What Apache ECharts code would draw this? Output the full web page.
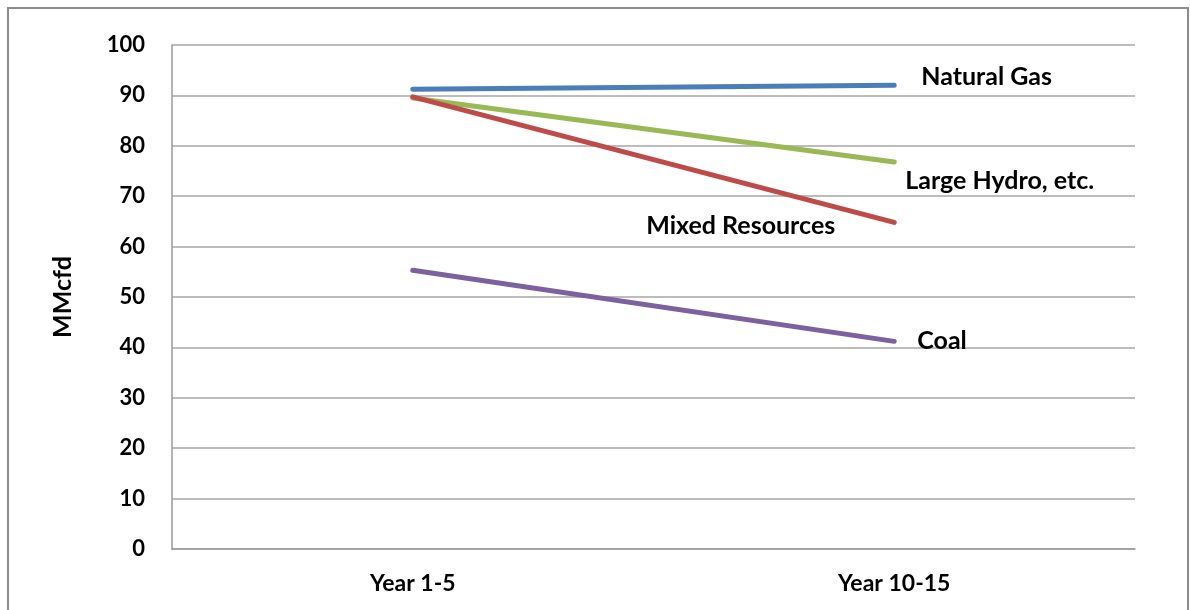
<!DOCTYPE html>
<html>
<head>
<meta charset="utf-8">
<script src="https://cdn.jsdelivr.net/npm/echarts@6/dist/echarts.min.js"></script>
<style>
  html, body { margin: 0; padding: 0; background: #fff; }
  #chart { width: 1190px; height: 610px; }
</style>
</head>
<body>
<div id="chart"></div>
<script>
// Projected gas demand by resource mix
const categories = ['Year 1-5', 'Year 10-15'];
const naturalGas = [91.2, 92.0];
const largeHydro = [89.5, 76.8];
const mixedResources = [89.7, 64.8];
const coal = [55.3, 41.2];
const yTicks = { min: 0, max: 100, interval: 10 };

const FONT = 'Lato, "Open Sans", sans-serif';

// Put a name label beside the last point of a series
function withEndLabel(values, text, opts) {
  return values.map((v, i) => {
    if (i !== values.length - 1) return v;
    return {
      value: v,
      label: Object.assign({
        show: true,
        formatter: text,
        color: '#000',
        fontFamily: FONT,
        fontWeight: 'bold',
        fontSize: 25,
        distance: 0
      }, opts)
    };
  });
}

function lineSeries(name, values, color, labelOpts) {
  return {
    name: name,
    type: 'line',
    data: withEndLabel(values, name, labelOpts),
    symbol: 'circle',
    symbolSize: 0,
    showSymbol: true,
    lineStyle: { color: color, width: 5, cap: 'round' },
    itemStyle: { color: color },
    emphasis: { disabled: true },
    animation: false
  };
}

const chart = echarts.init(document.getElementById('chart'), null, { renderer: 'canvas' });
chart.setOption({
  backgroundColor: '#fff',
  animation: false,
  graphic: [{
    type: 'rect',
    shape: { x: 8, y: 8, width: 1180, height: 640 },
    style: { fill: 'none', stroke: '#8c8c8c', lineWidth: 2 },
    silent: true
  }],
  grid: { left: 172, top: 45, right: 55, bottom: 61, containLabel: false },
  xAxis: {
    type: 'category',
    data: categories,
    boundaryGap: true,
    axisLine: { show: true, lineStyle: { color: '#9a9a9a', width: 1.5 } },
    axisTick: { show: false },
    axisLabel: {
      margin: 23,
      color: '#000',
      fontFamily: FONT,
      fontWeight: 'bold',
      fontSize: 23
    },
    splitLine: { show: false }
  },
  yAxis: {
    type: 'value',
    min: yTicks.min,
    max: yTicks.max,
    interval: yTicks.interval,
    name: 'MMcfd',
    nameLocation: 'middle',
    nameGap: 97,
    nameTextStyle: { color: '#000', fontFamily: FONT, fontWeight: 'bold', fontSize: 25 },
    axisLine: { show: true, lineStyle: { color: '#9a9a9a', width: 1.5 } },
    axisTick: { show: false },
    axisLabel: {
      margin: 27,
      color: '#000',
      fontFamily: FONT,
      fontWeight: 'bold',
      fontSize: 22
    },
    splitLine: { show: true, lineStyle: { color: '#a6a6a6', width: 1.5 } }
  },
  series: [
    lineSeries('Natural Gas', naturalGas, '#4a7ebb', { position: 'right', offset: [27, -8] }),
    lineSeries('Large Hydro, etc.', largeHydro, '#98b954', { position: 'right', offset: [11, 19] }),
    lineSeries('Mixed Resources', mixedResources, '#be4b48', { position: 'left', offset: [-59, 4] }),
    lineSeries('Coal', coal, '#7d60a0', { position: 'right', offset: [23, 0] })
  ]
});
</script>
</body>
</html>
